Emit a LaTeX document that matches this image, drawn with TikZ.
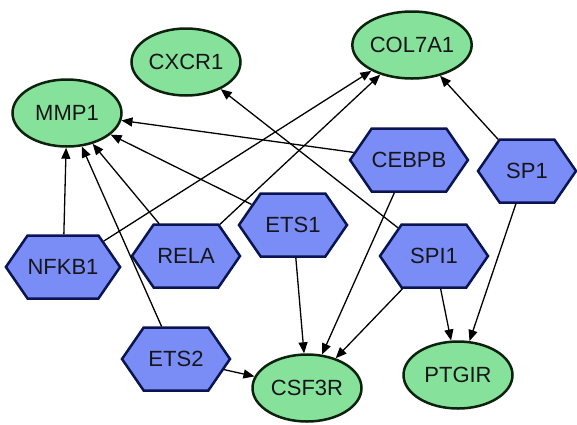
\documentclass[tikz,border=0pt]{standalone}
\usepackage{fontspec}
\setmainfont{Liberation Sans}
\usetikzlibrary{shapes.geometric,shapes.symbols,arrows.meta}
\definecolor{gfill}{RGB}{134,226,154}
\definecolor{gbord}{RGB}{12,34,14}
\definecolor{hfill}{RGB}{122,140,245}
\definecolor{hbord}{RGB}{10,20,80}
\definecolor{txt}{RGB}{22,22,26}
\begin{document}
\begin{tikzpicture}[x=1pt,y=-1pt,
  gene/.style={ellipse, draw=gbord, fill=gfill, line width=2.5pt, inner sep=0pt,
    minimum width=109pt, minimum height=67pt, text=txt,
    font=\fontsize{22}{26}\selectfont},
  tf/.style={signal, signal to=west and east, signal pointer angle=111,
    draw=hbord, fill=hfill, line width=2.5pt, inner sep=0pt,
    minimum width=108pt, minimum height=63pt, text=txt,
    font=\fontsize{22}{26}\selectfont},
  edge/.style={line width=1.3pt, draw=black, -{Triangle[length=11pt,width=9pt]}}
]
\useasboundingbox (0,0) rectangle (577,424);
% target genes
\node[gene] (MMP1) at (67,113) {MMP1};
\node[gene] (CXCR1) at (186,62) {CXCR1};
\node[gene] (COL7A1) at (412,45) {COL7A1};
\node[gene] (CSF3R) at (307,388) {CSF3R};
\node[gene] (PTGIR) at (458,375) {PTGIR};
% transcription factors
\node[tf] (CEBPB) at (409,160) {CEBPB};
\node[tf, minimum width=98pt] (SP1) at (527,171) {SP1};
\node[tf] (ETS1) at (293,225) {ETS1};
\node[tf] (SPI1) at (434,256) {SPI1};
\node[tf, minimum width=110pt] (NFKB1) at (63,267) {NFKB1};
\node[tf] (RELA) at (186,256) {RELA};
\node[tf] (ETS2) at (176,359) {ETS2};
% edges
\draw[edge] (NFKB1) -- (MMP1);
\draw[edge] (NFKB1) -- (COL7A1);
\draw[edge] (RELA) -- (MMP1);
\draw[edge] (RELA) -- (COL7A1);
\draw[edge] (ETS2) -- (MMP1);
\draw[edge] (ETS2) -- (CSF3R);
\draw[edge] (ETS1) -- (MMP1);
\draw[edge] (ETS1) -- (CSF3R);
\draw[edge] (CEBPB) -- (MMP1);
\draw[edge] (CEBPB) -- (CSF3R);
\draw[edge] (SPI1) -- (CXCR1);
\draw[edge] (SPI1) -- (CSF3R);
\draw[edge] (SPI1) -- (PTGIR);
\draw[edge] (SP1) -- (COL7A1);
\draw[edge] (SP1) -- (PTGIR);
\end{tikzpicture}
\end{document}
